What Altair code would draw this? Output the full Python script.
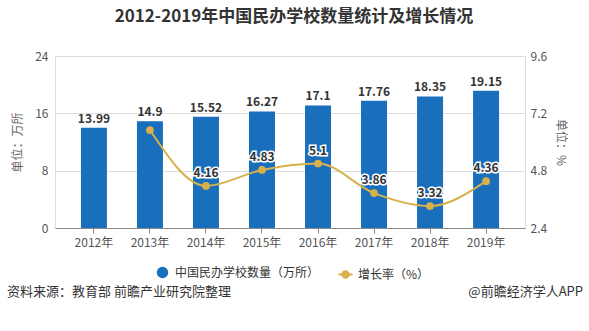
import altair as alt
import pandas as pd

years = ["2012年", "2013年", "2014年", "2015年", "2016年", "2017年", "2018年", "2019年"]
schools = [13.99, 14.9, 15.52, 16.27, 17.1, 17.76, 18.35, 19.15]
rate = [None, 6.5, 4.16, 4.83, 5.1, 3.86, 3.32, 4.36]
rate_labels = [None, None, "4.16", "4.83", "5.1", "3.86", "3.32", "4.36"]
bar_name = "中国民办学校数量（万所）"
line_name = "增长率（%）"
left_ticks = [0, 8, 16, 24]
right_ticks = [2.4, 4.8, 7.2, 9.6]

BLUE = "#1a6fbd"
GOLD = "#d9b14a"
FONT = "Noto Sans CJK SC"

df = pd.DataFrame({
    "year": years,
    "schools": schools,
    "rate": rate,
    "rlabel": rate_labels,
    "s1": [bar_name] * 8,
    "s2": [line_name] * 8,
})
df_rate = df.dropna(subset=["rate"])
df_lab = df.dropna(subset=["rlabel"])

x = alt.X("year:N", sort=years, title=None,
          scale=alt.Scale(paddingInner=0.54, paddingOuter=0.465),
          axis=alt.Axis(labelAngle=0, labelFontSize=12, labelColor="#555", labelFont=FONT,
                        domainColor="#888", tickColor="#888", tickSize=5, labelPadding=4,
                        grid=False))

yl = alt.Y("schools:Q", title="单位：万所",
           scale=alt.Scale(domain=[0, 24], nice=False),
           axis=alt.Axis(values=left_ticks, labelFontSize=12, labelColor="#555", labelFont=FONT,
                         titleFontSize=12, titleColor="#666", titleFont=FONT, titleFontWeight="normal",
                         titlePadding=10, domain=False, ticks=False, labelPadding=7,
                         gridColor="#dddddd"))

bars = alt.Chart(df).mark_bar(size=26).encode(
    x=x, y=yl,
    color=alt.Color("s1:N", scale=alt.Scale(domain=[bar_name], range=[BLUE]),
                    legend=alt.Legend(title=None, orient="none", legendX=101, legendY=210,
                                      symbolType="circle", symbolSize=130, labelFontSize=12,
                                      labelColor="#333", labelFont=FONT, padding=0, labelOffset=6)),
)
bar_text = alt.Chart(df).mark_text(dy=-9, fontSize=12, fontWeight="bold", color="#333", font=FONT,
                                   baseline="middle").encode(
    x=alt.X("year:N", sort=years), y=alt.Y("schools:Q", scale=alt.Scale(domain=[0, 24], nice=False)),
    text=alt.Text("schools:Q"),
)
left = alt.layer(bars, bar_text)

yr = alt.Y("rate:Q", title="单位：%",
           scale=alt.Scale(domain=[2.4, 9.6], nice=False, zero=False),
           axis=alt.Axis(values=right_ticks, format=".1f", orient="right", labelFontSize=12,
                         labelColor="#555", labelFont=FONT, titleFontSize=12, titleColor="#666",
                         titleFont=FONT, titleFontWeight="normal", titleAngle=90, titlePadding=7,
                         domain=False, ticks=False, labelPadding=5, grid=False))
yr_plain = alt.Y("rate:Q", scale=alt.Scale(domain=[2.4, 9.6], nice=False, zero=False))

line = alt.Chart(df_rate).mark_line(interpolate="monotone", strokeWidth=2).encode(
    x=alt.X("year:N", sort=years), y=yr,
    stroke=alt.Stroke("s2:N", scale=alt.Scale(domain=[line_name], range=[GOLD]),
                      legend=alt.Legend(title=None, orient="none", legendX=282, legendY=210,
                                        symbolType="M-1,0H1M-0.45,0A0.45,0.45,0,1,1,0.45,0A0.45,0.45,0,1,1,-0.45,0Z",
                                        symbolSize=200, symbolStrokeWidth=2, symbolFillColor=GOLD,
                                        labelFontSize=12, labelColor="#333", labelFont=FONT,
                                        padding=0, labelOffset=4)),
)
points = alt.Chart(df_rate).mark_point(filled=True, size=60, color=GOLD, opacity=1).encode(
    x=alt.X("year:N", sort=years), y=yr_plain,
)
halo = alt.Chart(df_lab).mark_text(dy=-13, fontSize=12, fontWeight="bold", stroke="white",
                                   strokeWidth=3, color="white", font=FONT).encode(
    x=alt.X("year:N", sort=years), y=yr_plain, text="rlabel:N")
rtext = alt.Chart(df_lab).mark_text(dy=-13, fontSize=12, fontWeight="bold", color="#333",
                                    font=FONT).encode(
    x=alt.X("year:N", sort=years), y=yr_plain, text="rlabel:N")
right = alt.layer(line, points, halo, rtext)

foot = pd.DataFrame({"a": ["资料来源：教育部 前瞻产业研究院整理"], "b": ["@前瞻经济学人APP"]})
foot_l = alt.Chart(foot).mark_text(align="left", baseline="middle", fontSize=13, color="#333",
                                   font=FONT).encode(x=alt.value(-48), y=alt.value(236), text="a:N")
foot_r = alt.Chart(foot).mark_text(align="right", baseline="middle", fontSize=13, color="#333",
                                   font=FONT).encode(x=alt.value(528), y=alt.value(236), text="b:N")

chart = alt.layer(left, right, foot_l, foot_r).resolve_scale(
    y="independent", color="independent", stroke="independent"
).properties(
    width=470, height=172,
    autosize=alt.AutoSizeParams(type="none"),
    padding={"left": 55, "top": 56, "right": 64, "bottom": 103},
    title=alt.TitleParams("2012-2019年中国民办学校数量统计及增长情况", fontSize=17, fontWeight="bold",
                          color="#333", font=FONT, anchor="middle", offset=24, dx=4),
).configure_view(stroke=None).configure(background="white")

chart.save("out.html", embed_options={"renderer": "svg", "actions": False})
